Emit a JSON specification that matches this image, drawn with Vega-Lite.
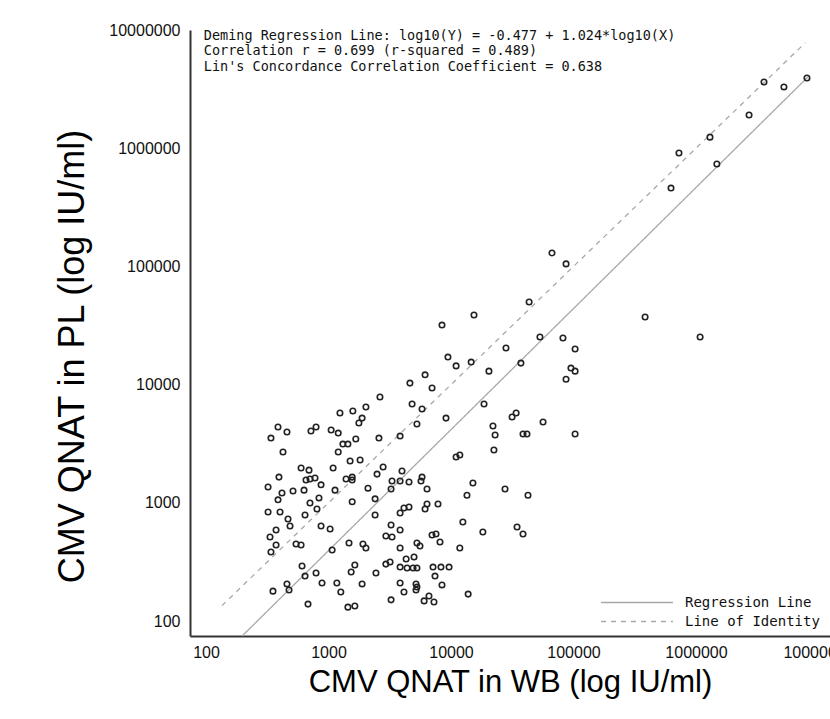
{
  "$schema": "https://vega.github.io/schema/vega-lite/v6.json",
  "width": 640,
  "height": 606,
  "autosize": {"type": "none"},
  "padding": {"left": 190, "top": 30, "right": 0, "bottom": 83},
  "background": "white",
  "config": {"view": {"stroke": null}, "font": "Liberation Sans"},
  "datasets": {
    "lines": [
      {"wb": 197.2, "pl": 74.7, "line": "Regression Line"},
      {"wb": 8200000, "pl": 4010000, "line": "Regression Line"},
      {"wb": 135, "pl": 135, "line": "Line of Identity"},
      {"wb": 7800000, "pl": 7800000, "line": "Line of Identity"}
    ],
    "points": [
      {"wb": 8050000, "pl": 3930000}, {"wb": 5220000, "pl": 3300000}, {"wb": 3590000, "pl": 3630000},
      {"wb": 2710000, "pl": 1910000}, {"wb": 1300000, "pl": 1240000}, {"wb": 1480000, "pl": 735000},
      {"wb": 726000, "pl": 910000}, {"wb": 625000, "pl": 460000}, {"wb": 86900, "pl": 105000},
      {"wb": 66700, "pl": 130000}, {"wb": 384000, "pl": 37300}, {"wb": 1080000, "pl": 25300},
      {"wb": 82000, "pl": 24800}, {"wb": 103000, "pl": 20000}, {"wb": 43400, "pl": 50000},
      {"wb": 15400, "pl": 38800}, {"wb": 8440, "pl": 31900}, {"wb": 53200, "pl": 25300},
      {"wb": 28100, "pl": 20400}, {"wb": 9440, "pl": 17100}, {"wb": 11000, "pl": 14400},
      {"wb": 14600, "pl": 15500}, {"wb": 20400, "pl": 13000}, {"wb": 37200, "pl": 15200},
      {"wb": 6140, "pl": 12100}, {"wb": 4620, "pl": 10300}, {"wb": 7000, "pl": 9360},
      {"wb": 95300, "pl": 13800}, {"wb": 103000, "pl": 13000}, {"wb": 86900, "pl": 11100},
      {"wb": 4810, "pl": 6850}, {"wb": 5800, "pl": 6220}, {"wb": 18600, "pl": 6850},
      {"wb": 3840, "pl": 3670}, {"wb": 5270, "pl": 4640}, {"wb": 9100, "pl": 5210},
      {"wb": 22000, "pl": 4470}, {"wb": 22900, "pl": 3750}, {"wb": 31500, "pl": 5320},
      {"wb": 34000, "pl": 5750}, {"wb": 56400, "pl": 4830}, {"wb": 38700, "pl": 3820},
      {"wb": 41700, "pl": 3820}, {"wb": 103000, "pl": 3820}, {"wb": 22400, "pl": 2800},
      {"wb": 11000, "pl": 2440}, {"wb": 11800, "pl": 2540}, {"wb": 3980, "pl": 1860},
      {"wb": 3840, "pl": 1530}, {"wb": 4540, "pl": 1500}, {"wb": 5690, "pl": 1530},
      {"wb": 5800, "pl": 1650}, {"wb": 6370, "pl": 1310}, {"wb": 15100, "pl": 1470},
      {"wb": 13500, "pl": 1160}, {"wb": 27600, "pl": 1310}, {"wb": 42500, "pl": 1160},
      {"wb": 3840, "pl": 820}, {"wb": 4130, "pl": 904}, {"wb": 4540, "pl": 921},
      {"wb": 6370, "pl": 977}, {"wb": 6140, "pl": 887}, {"wb": 7830, "pl": 977},
      {"wb": 12500, "pl": 688}, {"wb": 18200, "pl": 566}, {"wb": 34600, "pl": 624},
      {"wb": 38700, "pl": 545}, {"wb": 3840, "pl": 589}, {"wb": 7000, "pl": 534},
      {"wb": 7540, "pl": 545}, {"wb": 8130, "pl": 466}, {"wb": 5270, "pl": 457},
      {"wb": 5580, "pl": 431}, {"wb": 11800, "pl": 415}, {"wb": 3840, "pl": 415},
      {"wb": 4300, "pl": 335}, {"wb": 4990, "pl": 348}, {"wb": 3840, "pl": 286},
      {"wb": 4380, "pl": 281}, {"wb": 4900, "pl": 281}, {"wb": 5270, "pl": 281},
      {"wb": 7130, "pl": 286}, {"wb": 8280, "pl": 286}, {"wb": 9640, "pl": 286},
      {"wb": 7400, "pl": 240}, {"wb": 3840, "pl": 210}, {"wb": 5180, "pl": 206},
      {"wb": 5270, "pl": 194}, {"wb": 5180, "pl": 183}, {"wb": 8440, "pl": 202},
      {"wb": 4130, "pl": 176}, {"wb": 6610, "pl": 163}, {"wb": 6030, "pl": 148},
      {"wb": 7260, "pl": 145}, {"wb": 13800, "pl": 169}, {"wb": 2020, "pl": 6460},
      {"wb": 1580, "pl": 5980}, {"wb": 1240, "pl": 5750}, {"wb": 1880, "pl": 5210},
      {"wb": 1770, "pl": 4730}, {"wb": 387, "pl": 4380}, {"wb": 458, "pl": 3970},
      {"wb": 339, "pl": 3530}, {"wb": 719, "pl": 4050}, {"wb": 791, "pl": 4380},
      {"wb": 1050, "pl": 4130}, {"wb": 1200, "pl": 3890}, {"wb": 1670, "pl": 3470},
      {"wb": 2580, "pl": 3530}, {"wb": 1310, "pl": 3140}, {"wb": 1440, "pl": 3140},
      {"wb": 425, "pl": 2690}, {"wb": 1200, "pl": 2690}, {"wb": 1500, "pl": 2260},
      {"wb": 1810, "pl": 2300}, {"wb": 2790, "pl": 2010}, {"wb": 2490, "pl": 1750},
      {"wb": 597, "pl": 1970}, {"wb": 693, "pl": 1890}, {"wb": 1090, "pl": 1970},
      {"wb": 394, "pl": 1650}, {"wb": 776, "pl": 1620}, {"wb": 655, "pl": 1560},
      {"wb": 706, "pl": 1590}, {"wb": 631, "pl": 1280}, {"wb": 1390, "pl": 1590},
      {"wb": 1560, "pl": 1650}, {"wb": 1560, "pl": 1560}, {"wb": 3300, "pl": 1530},
      {"wb": 3240, "pl": 1310}, {"wb": 2100, "pl": 1330}, {"wb": 321, "pl": 1360},
      {"wb": 417, "pl": 1210}, {"wb": 513, "pl": 1260}, {"wb": 869, "pl": 1420},
      {"wb": 1130, "pl": 1280}, {"wb": 387, "pl": 1060}, {"wb": 706, "pl": 996},
      {"wb": 836, "pl": 1100}, {"wb": 1560, "pl": 1020}, {"wb": 2400, "pl": 1080},
      {"wb": 805, "pl": 887}, {"wb": 321, "pl": 836}, {"wb": 402, "pl": 836},
      {"wb": 643, "pl": 789}, {"wb": 2400, "pl": 789}, {"wb": 467, "pl": 729},
      {"wb": 485, "pl": 637}, {"wb": 373, "pl": 589}, {"wb": 869, "pl": 637},
      {"wb": 1030, "pl": 600}, {"wb": 333, "pl": 514}, {"wb": 373, "pl": 440},
      {"wb": 339, "pl": 384}, {"wb": 543, "pl": 448}, {"wb": 597, "pl": 440},
      {"wb": 1070, "pl": 399}, {"wb": 1470, "pl": 457}, {"wb": 1910, "pl": 448},
      {"wb": 2020, "pl": 415}, {"wb": 3240, "pl": 649}, {"wb": 2940, "pl": 524},
      {"wb": 3300, "pl": 514}, {"wb": 608, "pl": 292}, {"wb": 1640, "pl": 298},
      {"wb": 1530, "pl": 260}, {"wb": 791, "pl": 255}, {"wb": 2440, "pl": 255},
      {"wb": 2940, "pl": 303}, {"wb": 3180, "pl": 316}, {"wb": 643, "pl": 240},
      {"wb": 458, "pl": 206}, {"wb": 885, "pl": 210}, {"wb": 1170, "pl": 210},
      {"wb": 1880, "pl": 206}, {"wb": 476, "pl": 183}, {"wb": 352, "pl": 179},
      {"wb": 1260, "pl": 176}, {"wb": 680, "pl": 139}, {"wb": 1440, "pl": 131},
      {"wb": 1640, "pl": 134}, {"wb": 3240, "pl": 151}, {"wb": 2630, "pl": 7850}
    ]
  },
  "layer": [
    {
      "data": {"name": "lines"},
      "mark": {"type": "line", "color": "#a8a8a8", "strokeWidth": 1.3},
      "encoding": {
        "x": {
          "field": "wb", "type": "quantitative",
          "scale": {"type": "log", "domain": [74, 12410000], "nice": false},
          "axis": {
            "values": [100, 1000, 10000, 100000, 1000000, 10000000],
            "format": "d",
            "title": "CMV QNAT in WB (log IU/ml)",
            "grid": false, "ticks": false,
            "domainColor": "#333", "domainWidth": 2,
            "labelFont": "Liberation Sans", "labelFontSize": 16, "labelColor": "#111",
            "labelPadding": 8, "labelFlush": false, "labelOverlap": false,
            "titleFont": "Liberation Sans", "titleFontSize": 31, "titleFontWeight": "normal",
            "titleColor": "#000", "titlePadding": 7
          }
        },
        "y": {
          "field": "pl", "type": "quantitative",
          "scale": {"type": "log", "domain": [74.7, 10000000], "nice": false},
          "axis": {
            "values": [100, 1000, 10000, 100000, 1000000, 10000000],
            "format": "d",
            "title": "CMV QNAT in PL (log IU/ml)",
            "grid": false, "ticks": false,
            "domainColor": "#333", "domainWidth": 2,
            "labelFont": "Liberation Sans", "labelFontSize": 16, "labelColor": "#111",
            "labelPadding": 10, "labelOverlap": false,
            "titleFont": "Liberation Sans", "titleFontSize": 36, "titleFontWeight": "normal",
            "titleColor": "#000", "titlePadding": 17, "titleY": 326
          }
        },
        "strokeDash": {
          "field": "line", "type": "nominal",
          "scale": {"domain": ["Regression Line", "Line of Identity"], "range": [[1, 0], [5, 5]]},
          "legend": {
            "orient": "none", "legendX": 410, "legendY": 563,
            "title": null, "symbolType": "stroke", "symbolSize": 5184,
            "symbolStrokeWidth": 1.3, "symbolStrokeColor": "#a8a8a8",
            "clipHeight": 19, "rowPadding": 0, "padding": 0,
            "labelFont": "DejaVu Sans Mono", "labelFontSize": 14, "labelColor": "#111",
            "labelOffset": 11
          }
        }
      }
    },
    {
      "data": {"name": "points"},
      "mark": {"type": "point", "shape": "circle", "filled": false, "color": "#222", "size": 30, "strokeWidth": 1.6, "opacity": 1},
      "encoding": {
        "x": {"field": "wb", "type": "quantitative"},
        "y": {"field": "pl", "type": "quantitative"}
      }
    },
    {
      "data": {"values": [{}]},
      "mark": {
        "type": "text", "align": "left", "baseline": "top",
        "font": "DejaVu Sans Mono", "fontSize": 13.5, "lineHeight": 15.5, "color": "#111",
        "text": [
          "Deming Regression Line: log10(Y) = -0.477 + 1.024*log10(X)",
          "Correlation r = 0.699 (r-squared = 0.489)",
          "Lin's Concordance Correlation Coefficient = 0.638"
        ]
      },
      "encoding": {
        "x": {"datum": 96},
        "y": {"datum": 10200000}
      }
    }
  ]
}
